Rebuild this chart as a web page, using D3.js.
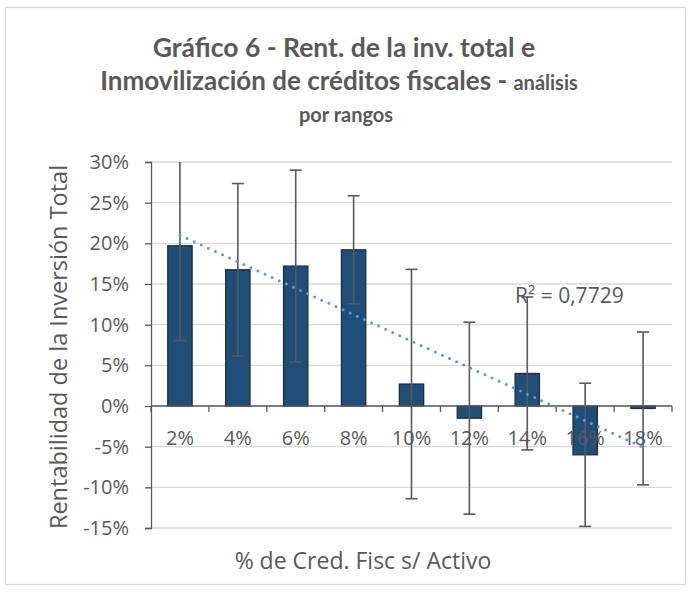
<!DOCTYPE html>
<html lang="es">
<head>
    <meta charset="UTF-8">
    <title>Gráfico 6 - Rent. de la inv. total</title>
    <style>
        body { margin: 0; background: #fff; }
        svg { font-family: "Open Sans", Lato, sans-serif; }
        .grid line { stroke: #d9d9d9; stroke-width: 1.3; }
        .title { font-family: Lato, "Open Sans", sans-serif; }
    </style>
</head>
<body>
    <svg id="chart" width="691" height="592"></svg>
    <script src="https://d3js.org/d3.v7.min.js"></script>
    <script>
        // data (percent)
        const categories = ["2%", "4%", "6%", "8%", "10%", "12%", "14%", "16%", "18%"];
        const values = [19.7, 16.75, 17.2, 19.2, 2.7, -1.5, 4.0, -6.0, -0.3];
        const errors = [11.65, 10.6, 11.8, 6.65, 14.1, 11.8, 9.4, 8.8, 9.4];
        const yTicks = [-15, -10, -5, 0, 5, 10, 15, 20, 25, 30];
        const r2Label = "R² = 0,7729";

        const m = { left: 151, right: 672, top: 162, bottom: 528 };
        const grey = "#595959";

        const svg = d3.select("#chart");

        // frame
        svg.append("rect")
            .attr("x", 5.5).attr("y", 7.5)
            .attr("width", 680).attr("height", 577)
            .attr("fill", "#fff").attr("stroke", "#d9d9d9").attr("stroke-width", 1.3);

        const x = d3.scaleBand().domain(categories).range([m.left, m.right]).padding(0);
        const y = d3.scaleLinear().domain([-15, 30]).range([m.bottom, m.top]);
        const barW = x.bandwidth() * 0.42;
        const cx = i => x(categories[i]) + x.bandwidth() / 2;

        // gridlines
        svg.append("g").attr("class", "grid")
            .selectAll("line").data(yTicks).join("line")
            .attr("x1", m.left).attr("x2", m.right)
            .attr("y1", d => y(d)).attr("y2", d => y(d));

        // y axis
        const yAxis = svg.append("g")
            .attr("transform", `translate(${m.left},0)`)
            .call(d3.axisLeft(y).tickValues(yTicks).tickFormat(d => d + "%").tickSize(6).tickPadding(16));
        yAxis.select(".domain").attr("stroke", grey).attr("stroke-width", 1.3);
        yAxis.selectAll(".tick line").attr("stroke", grey).attr("stroke-width", 1.3);
        yAxis.selectAll(".tick text").attr("font-size", 20).attr("fill", grey)
            .attr("font-family", "'Open Sans', sans-serif");

        // bars
        svg.append("g").selectAll("rect").data(values).join("rect")
            .attr("x", (d, i) => cx(i) - barW / 2)
            .attr("width", barW)
            .attr("y", d => y(Math.max(0, d)))
            .attr("height", d => Math.abs(y(d) - y(0)))
            .attr("fill", "#1f4e79")
            .attr("stroke", "#1c2f44").attr("stroke-width", 1.3);

        // x axis at 0 with ticks between categories
        const xAxisG = svg.append("g");
        xAxisG.append("line")
            .attr("x1", m.left).attr("x2", m.right)
            .attr("y1", y(0)).attr("y2", y(0))
            .attr("stroke", grey).attr("stroke-width", 1.3);
        const bounds = categories.map(c => x(c)).concat([m.right]);
        xAxisG.selectAll(".xt").data(bounds).join("line")
            .attr("class", "xt")
            .attr("x1", d => d).attr("x2", d => d)
            .attr("y1", y(0)).attr("y2", y(0) + 6)
            .attr("stroke", grey).attr("stroke-width", 1.3);
        xAxisG.selectAll("text").data(categories).join("text")
            .attr("x", d => x(d) + x.bandwidth() / 2)
            .attr("y", 445)
            .attr("text-anchor", "middle")
            .attr("font-size", 20).attr("fill", grey)
            .text(d => d);

        // error bars (clipped to plot area)
        svg.append("clipPath").attr("id", "plotclip")
            .append("rect").attr("x", m.left - 20).attr("y", m.top)
            .attr("width", m.right - m.left + 40).attr("height", m.bottom - m.top);
        const eb = svg.append("g").attr("clip-path", "url(#plotclip)")
            .selectAll("g").data(values).join("g")
            .attr("stroke", grey).attr("stroke-width", 1.6);
        eb.append("line")
            .attr("x1", (d, i) => cx(i)).attr("x2", (d, i) => cx(i))
            .attr("y1", (d, i) => y(d + errors[i])).attr("y2", (d, i) => y(d - errors[i]));
        eb.append("line")
            .attr("x1", (d, i) => cx(i) - 6).attr("x2", (d, i) => cx(i) + 6)
            .attr("y1", (d, i) => y(d + errors[i])).attr("y2", (d, i) => y(d + errors[i]));
        eb.append("line")
            .attr("x1", (d, i) => cx(i) - 6).attr("x2", (d, i) => cx(i) + 6)
            .attr("y1", (d, i) => y(d - errors[i])).attr("y2", (d, i) => y(d - errors[i]));

        // linear trendline (least squares over category index)
        const xs = d3.range(1, values.length + 1);
        const mx = d3.mean(xs), my = d3.mean(values);
        const slope = d3.sum(xs, (v, i) => (v - mx) * (values[i] - my)) / d3.sum(xs, v => (v - mx) ** 2);
        const icpt = my - slope * mx;
        const trend = xs.map(v => ({ cat: categories[v - 1], val: icpt + slope * v }));
        svg.append("path")
            .datum(trend)
            .attr("fill", "none")
            .attr("stroke", "#5b9bd5").attr("stroke-width", 3)
            .attr("stroke-linecap", "round").attr("stroke-dasharray", "0,7.8")
            .attr("d", d3.line().x(d => x(d.cat) + x.bandwidth() / 2).y(d => y(d.val)));

        svg.append("text")
            .attr("x", 515).attr("y", 303)
            .attr("font-size", 21).attr("fill", grey)
            .text(r2Label);

        // titles
        const title = svg.append("text").attr("class", "title")
            .attr("text-anchor", "middle").attr("fill", grey).attr("font-weight", "bold");
        title.append("tspan").attr("x", 344).attr("y", 57).attr("font-size", 26.5).text("Gráfico 6 - Rent. de la inv. total e");
        const l2 = title.append("tspan").attr("x", 339).attr("y", 90);
        l2.append("tspan").attr("font-size", 26).text("Inmovilización de créditos fiscales - ");
        l2.append("tspan").attr("font-size", 20).text("análisis");
        title.append("tspan").attr("x", 346).attr("y", 122).attr("font-size", 20).text("por rangos");

        svg.append("text")
            .attr("transform", `translate(67,${(m.top + m.bottom) / 2 + 2}) rotate(-90)`)
            .attr("text-anchor", "middle")
            .attr("font-size", 23.5).attr("fill", grey)
            .text("Rentabilidad de la Inversión Total");

        svg.append("text")
            .attr("x", 363).attr("y", 569)
            .attr("text-anchor", "middle")
            .attr("font-size", 23).attr("fill", grey)
            .text("% de Cred. Fisc s/ Activo");
    </script>
</body>
</html>
